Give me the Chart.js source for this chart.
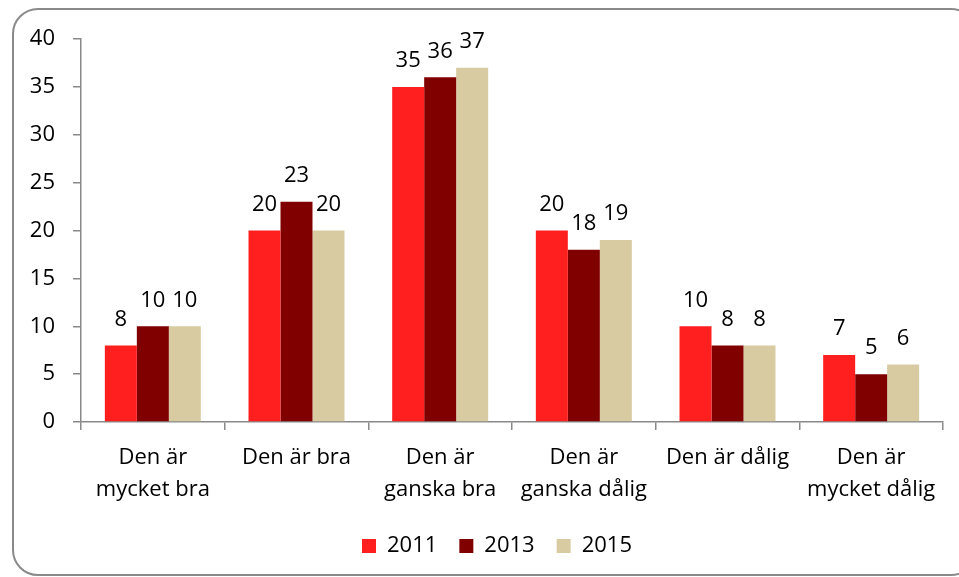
<!DOCTYPE html>
<html>
<head>
<meta charset="utf-8">
<script src="https://cdn.jsdelivr.net/npm/chart.js@4/dist/chart.umd.min.js"></script>
<style>
  html, body { margin: 0; padding: 0; background: #fff; overflow: hidden; }
  #wrap { position: relative; width: 959px; height: 577px; }
  #frame {
    position: absolute; left: 12px; top: 8px; width: 961px; height: 564px;
    border: 2px solid #8a8a8a; border-radius: 26px;
  }
  #c { position: absolute; left: 0; top: 0; }
</style>
</head>
<body>
<div id="wrap">
  <div id="frame"></div>
  <canvas id="c" width="959" height="577"></canvas>
</div>
<script>
const CATEGORIES = [
    ['Den är', 'mycket bra'],
    'Den är bra',
    ['Den är', 'ganska bra'],
    ['Den är', 'ganska dålig'],
    'Den är dålig',
    ['Den är', 'mycket dålig'],
];
const YEARS = ['2011', '2013', '2015'];
const V2011 = [8, 20, 35, 20, 10, 7];
const V2013 = [10, 23, 36, 18, 8, 5];
const V2015 = [10, 20, 37, 19, 8, 6];
const Y_TICKS = [0, 5, 10, 15, 20, 25, 30, 35, 40];

const RED = '#FF1F1F';
const DARK = '#800000';
const BEIGE = '#D8CBA1';
const AXIS = '#898989';
const FONT = { family: '"Open Sans", sans-serif', size: 22 };

// values above each bar
const valueLabels = {
    id: 'valueLabels',
    afterDatasetsDraw(chart) {
        const { ctx } = chart;
        ctx.save();
        ctx.font = `${FONT.size}px ${FONT.family}`;
        ctx.fillStyle = '#000';
        ctx.textAlign = 'center';
        ctx.textBaseline = 'middle';
        chart.data.datasets.forEach((ds, i) => {
            chart.getDatasetMeta(i).data.forEach((bar, j) => {
                ctx.fillText(String(ds.data[j]), bar.x, bar.y - 26);
            });
        });
        ctx.restore();
    },
};

// legend sits a little right of the canvas centre, under the plot area
const shiftLegend = {
    id: 'shiftLegend',
    afterLayout(chart) {
        if (chart.legend) chart.legend.left = 51;
    },
};

new Chart(document.getElementById('c'), {
    type: 'bar',
    data: {
        labels: CATEGORIES,
        datasets: [
            { label: YEARS[0], data: V2011, backgroundColor: RED },
            { label: YEARS[1], data: V2013, backgroundColor: DARK },
            { label: YEARS[2], data: V2015, backgroundColor: BEIGE },
        ],
    },
    options: {
        responsive: false,
        animation: false,
        devicePixelRatio: 1,
        layout: { padding: { top: 39, left: 0, right: 16, bottom: 10 } },
        categoryPercentage: 0.668,
        barPercentage: 1,
        plugins: {
            legend: {
                position: 'bottom',
                labels: {
                    boxWidth: 14, boxHeight: 14, padding: 22,
                    color: '#000', font: FONT,
                },
            },
            tooltip: { enabled: false },
        },
        scales: {
            x: {
                afterFit: (s) => { s.height -= 4; },
                grid: {
                    offset: true, drawOnChartArea: false, drawTicks: true,
                    tickLength: 8, color: AXIS, lineWidth: 1.5,
                },
                border: { color: AXIS, width: 1.5 },
                ticks: { color: '#000', font: { ...FONT, lineHeight: 1.43 }, padding: 12, maxRotation: 0, autoSkip: false },
            },
            y: {
                min: 0, max: 40,
                afterFit: (s) => { s.width = 81; },
                afterBuildTicks: (s) => { s.ticks = Y_TICKS.map((v) => ({ value: v })); },
                grid: {
                    drawOnChartArea: false, drawTicks: true,
                    tickLength: 8, color: AXIS, lineWidth: 1.5,
                },
                border: { color: AXIS, width: 1.5 },
                ticks: { color: '#000', font: FONT, padding: 18 },
            },
        },
    },
    plugins: [valueLabels, shiftLegend],
});
</script>
</body>
</html>
